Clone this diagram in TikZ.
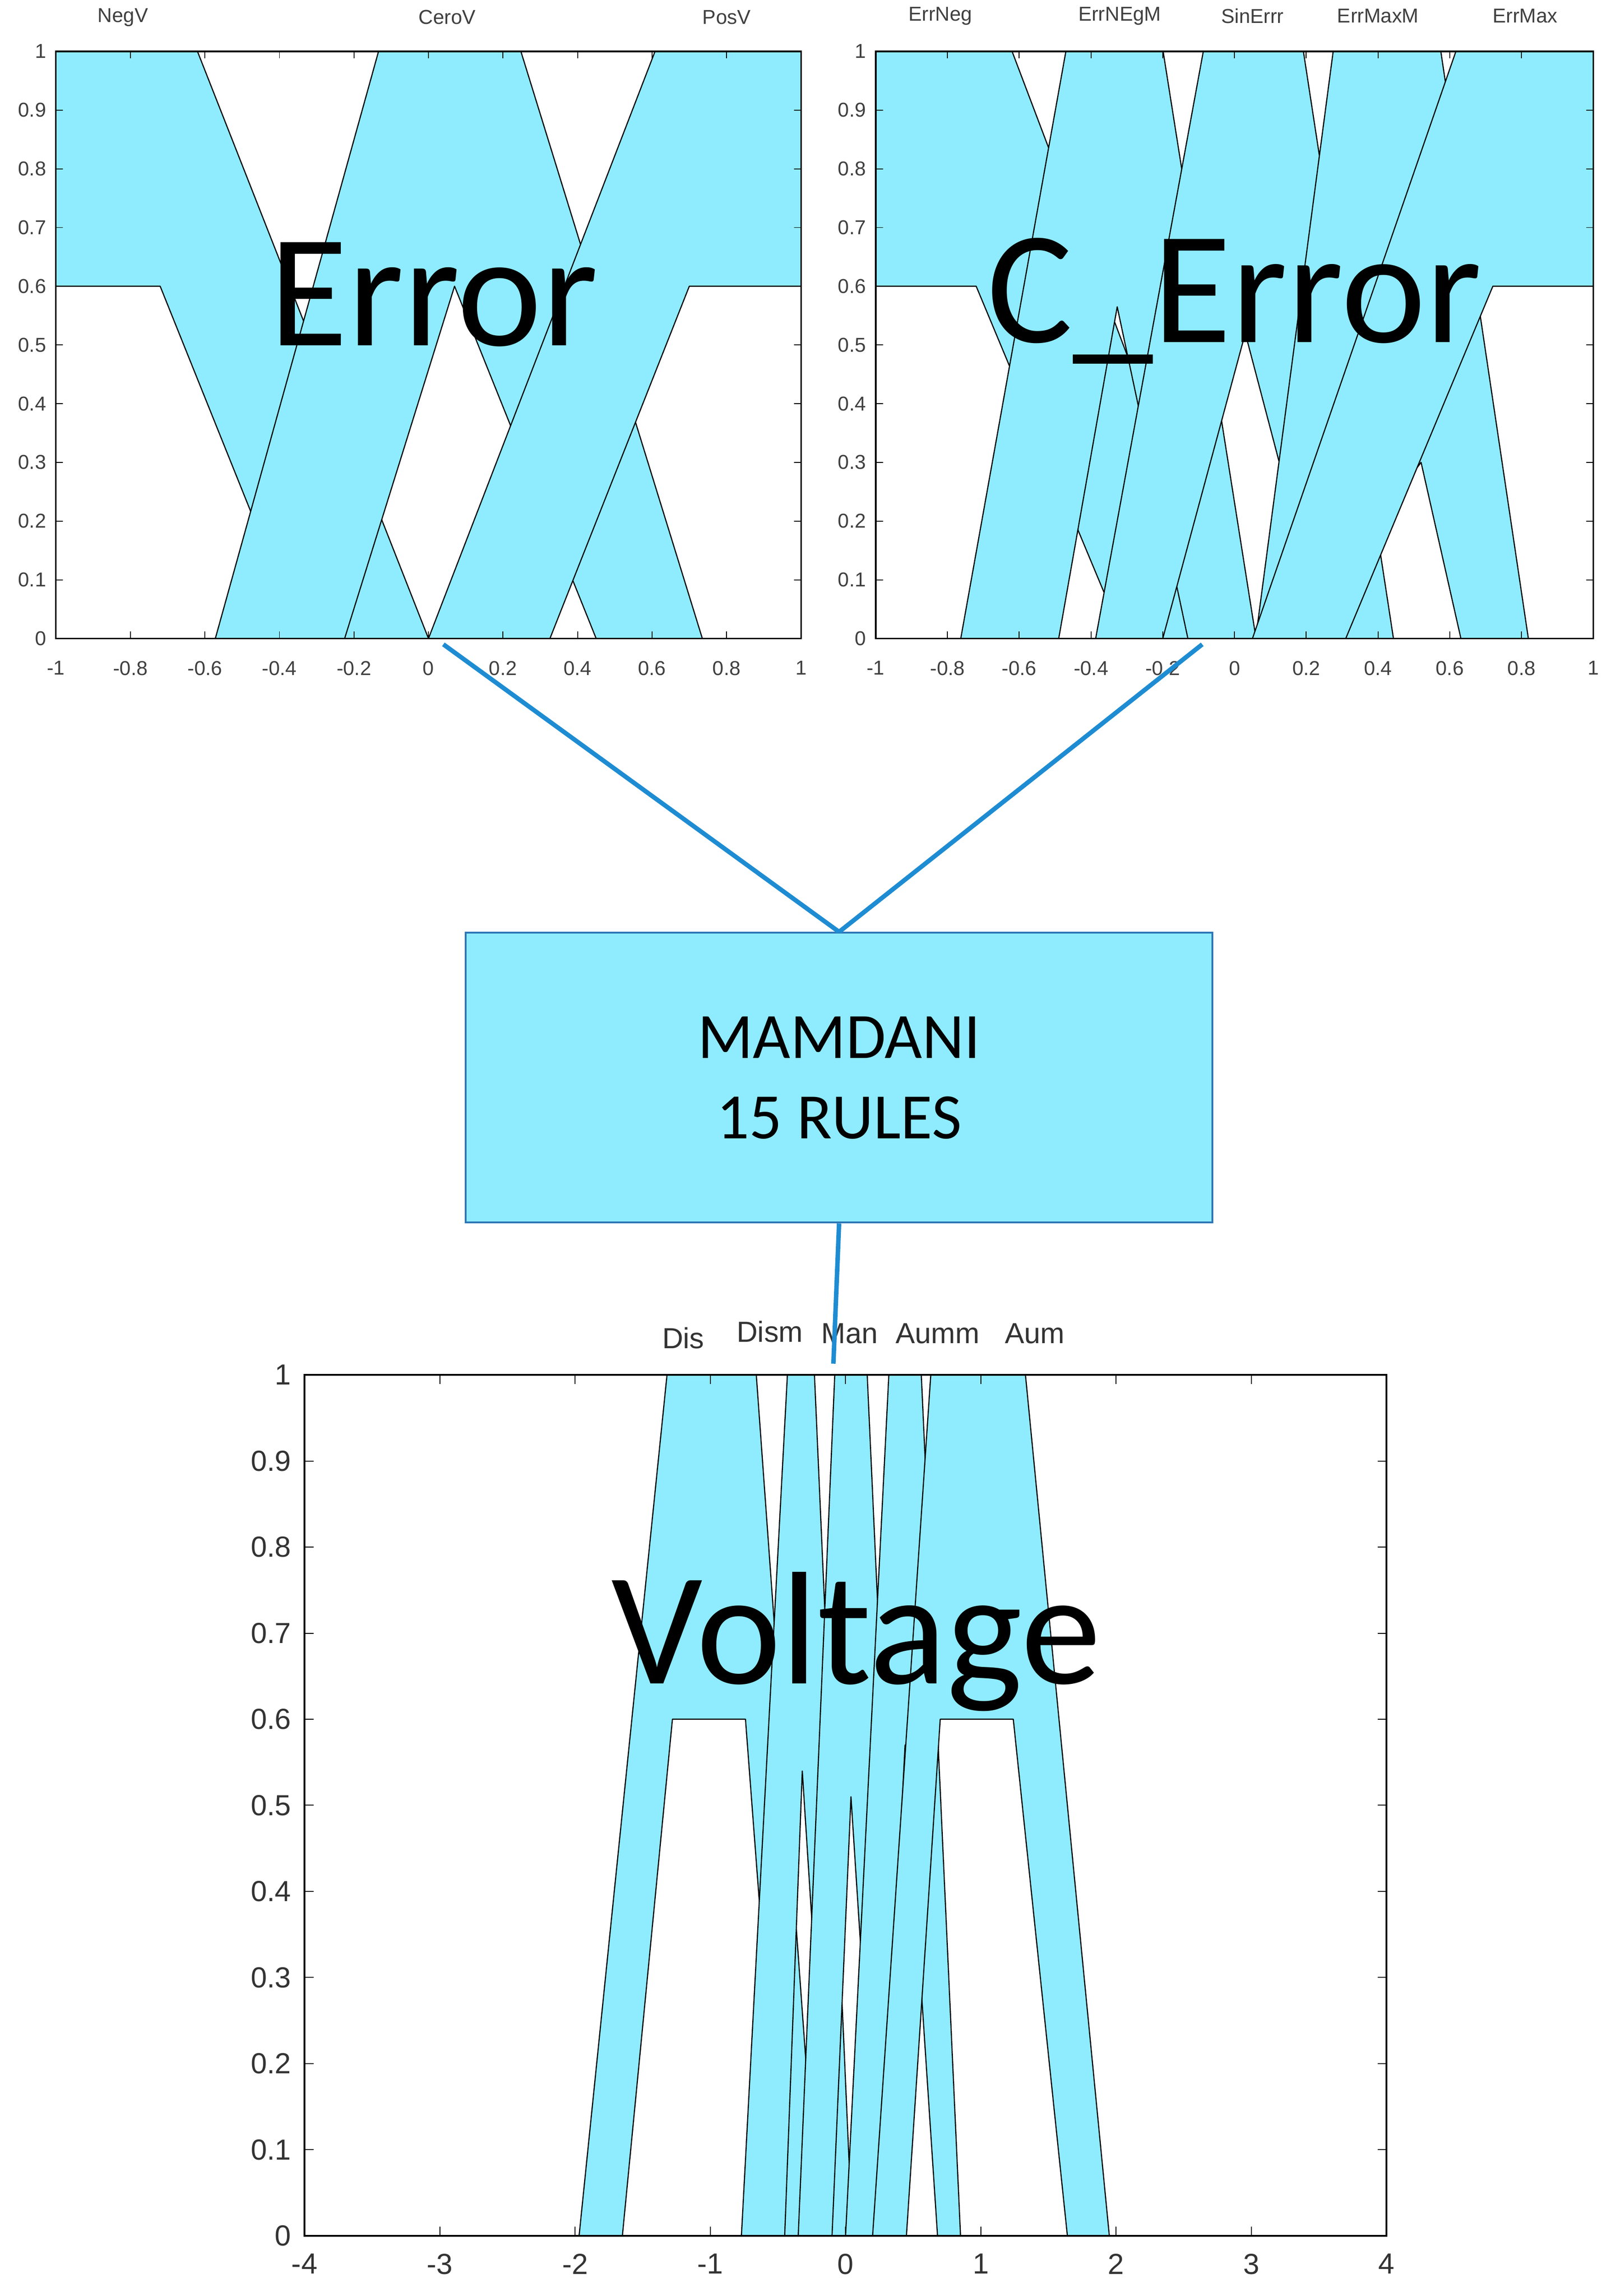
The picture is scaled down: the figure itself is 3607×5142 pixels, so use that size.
\documentclass[tikz,border=0pt]{standalone}
\usepackage{fontspec}
\setmainfont{Liberation Sans}
\newfontfamily\carlito{Carlito}
\begin{document}
\begin{tikzpicture}[x=0.2pt,y=-0.2pt,
  fou/.style={fill=cyanfill,draw=black,line width=0.5pt,line join=round},
  frame/.style={draw=black,line width=0.8pt},
  tlab/.style={font=\fontsize{9}{10}\selectfont,text=black!75},
  blab/.style={font=\fontsize{13}{14}\selectfont,text=black!80},
  big/.style={font=\carlito\fontsize{72}{72}\selectfont},
  conn/.style={draw=connblue,line width=2pt}]
\definecolor{cyanfill}{RGB}{143,236,255}
\definecolor{connblue}{RGB}{30,140,210}
\definecolor{boxborder}{RGB}{46,117,182}
\useasboundingbox[fill=white] (0,0) rectangle (3607,5142);

% ---------- Error panel ----------
\begin{scope}[shift={(959.5,1430)},xscale=834.5,yscale=-1315]
 \path[fou] (-1,1)--(-0.62,1)--(0,0)--(-0.34,0)--(-0.72,0.6)--(-1,0.6)--cycle;
 \path[fou] (-0.572,0)--(-0.134,1)--(0.248,1)--(0.735,0)--(0.45,0)--(0.07,0.6)--(-0.225,0)--cycle;
 \path[fou] (0,0)--(0.608,1)--(1,1)--(1,0.6)--(0.70,0.6)--(0.326,0)--cycle;
 \draw[frame] (-1,0) rectangle (1,1);
 \foreach \v/\t in {-1/-1,-0.8/-0.8,-0.6/-0.6,-0.4/-0.4,-0.2/-0.2,0/0,0.2/0.2,0.4/0.4,0.6/0.6,0.8/0.8,1/1}{
   \draw (\v,0)--(\v,0.012); \draw (\v,1)--(\v,0.988);
   \node[tlab,anchor=north] (exl\t) at (\v,-0.025) {\t};}
 \foreach \v/\t in {0/0,0.1/0.1,0.2/0.2,0.3/0.3,0.4/0.4,0.5/0.5,0.6/0.6,0.7/0.7,0.8/0.8,0.9/0.9,1/1}{
   \draw (-1,\v)--(-0.981,\v); \draw (1,\v)--(0.981,\v);
   \node[tlab,anchor=east] (eyl\t) at (-1.005,\v) {\t};}
 \node[tlab] (negv) at (-0.82,1.058) {NegV};
 \node[tlab] (cerov) at (0.05,1.058) {CeroV};
 \node[tlab] (posv) at (0.80,1.058) {PosV};
 \node[big] (errtxt) at (0.014,0.586) {Error};
 \coordinate (eout) at (0.04,-0.01);
\end{scope}

% ---------- C_Error panel ----------
\begin{scope}[shift={(2764.5,1430)},xscale=803.5,yscale=-1315]
 \path[fou] (-1,1)--(-0.62,1)--(0,0)--(-0.31,0)--(-0.72,0.6)--(-1,0.6)--cycle;
 \path[fou] (-0.763,0)--(-0.47,1)--(-0.199,1)--(0.06,0)--(-0.13,0)--(-0.327,0.565)--(-0.49,0)--cycle;
 \path[fou] (-0.387,0)--(-0.087,1)--(0.192,1)--(0.443,0)--(0.254,0)--(0.03,0.52)--(-0.2,0)--cycle;
 \path[fou] (0.059,0)--(0.275,1)--(0.575,1)--(0.819,0)--(0.631,0)--(0.52,0.3)--(0.15,0)--cycle;
 \path[fou] (0.05,0)--(0.617,1)--(1,1)--(1,0.6)--(0.72,0.6)--(0.31,0)--cycle;
 \draw[frame] (-1,0) rectangle (1,1);
 \foreach \v/\t in {-1/-1,-0.8/-0.8,-0.6/-0.6,-0.4/-0.4,-0.2/-0.2,0/0,0.2/0.2,0.4/0.4,0.6/0.6,0.8/0.8,1/1}{
   \draw (\v,0)--(\v,0.012); \draw (\v,1)--(\v,0.988);
   \node[tlab,anchor=north] (cxl\t) at (\v,-0.025) {\t};}
 \foreach \v/\t in {0/0,0.1/0.1,0.2/0.2,0.3/0.3,0.4/0.4,0.5/0.5,0.6/0.6,0.7/0.7,0.8/0.8,0.9/0.9,1/1}{
   \draw (-1,\v)--(-0.98,\v); \draw (1,\v)--(0.98,\v);
   \node[tlab,anchor=east] (cyl\t) at (-1.005,\v) {\t};}
 \node[tlab] (errneg) at (-0.82,1.06) {ErrNeg};
 \node[tlab] (errnegm) at (-0.32,1.06) {ErrNEgM};
 \node[tlab] (sinerr) at (0.05,1.06) {SinErrr};
 \node[tlab] (errmaxm) at (0.40,1.06) {ErrMaxM};
 \node[tlab] (errmax) at (0.81,1.06) {ErrMax};
 \node[big] (cerrtxt) at (0.0,0.575) {C\_Error};
 \coordinate (cout) at (-0.09,-0.01);
\end{scope}

% ---------- Rule box ----------
\node[draw=boxborder,fill=cyanfill,line width=0.8pt,minimum width=334.4pt,minimum height=129.8pt,
      align=center,font=\carlito\fontsize{29}{36}\selectfont] (box) at (1879,2413.5) {MAMDANI\\15 RULES};
\draw[conn] (eout) -- (box.north);
\draw[conn] (cout) -- (box.north);

% ---------- Voltage panel ----------
\begin{scope}[shift={(1893.5,5007)},xscale=302.9,yscale=-1928]
 \path[fou] (-1.97,0)--(-1.32,1)--(-0.66,1)--(-0.2,0)--(-0.45,0)--(-0.74,0.6)--(-1.28,0.6)--(-1.65,0)--cycle;
 \path[fou] (-0.77,0)--(-0.43,1)--(-0.23,1)--(0.05,0)--(-0.1,0)--(-0.32,0.54)--(-0.45,0)--cycle;
 \path[fou] (-0.35,0)--(-0.08,1)--(0.16,1)--(0.45,0)--(0.25,0)--(0.04,0.51)--(-0.1,0)--cycle;
 \path[fou] (0.0,0)--(0.32,1)--(0.56,1)--(0.85,0)--(0.68,0)--(0.44,0.57)--(0.25,0)--cycle;
 \path[fou] (0.2,0)--(0.63,1)--(1.33,1)--(1.95,0)--(1.64,0)--(1.24,0.6)--(0.7,0.6)--(0.45,0)--cycle;
 \draw[frame] (-4,0) rectangle (4,1);
 \foreach \v in {-4,...,4}{
   \draw (\v,0)--(\v,0.0104); \draw (\v,1)--(\v,0.9896);
   \node[blab,anchor=north] (vxl\v) at (\v,-0.012) {\v};}
 \foreach \v/\t in {0/0,0.1/0.1,0.2/0.2,0.3/0.3,0.4/0.4,0.5/0.5,0.6/0.6,0.7/0.7,0.8/0.8,0.9/0.9,1/1}{
   \draw (-4,\v)--(-3.934,\v); \draw (4,\v)--(3.934,\v);
   \node[blab,anchor=east] (vyl\t) at (-4.04,\v) {\t};}
 \node[blab] (dis) at (-1.20,1.043) {Dis};
 \node[blab] (dism) at (-0.56,1.05) {Dism};
 \node[blab] (man) at (0.03,1.048) {Man};
 \node[blab] (aumm) at (0.68,1.048) {Aumm};
 \node[blab] (aum) at (1.40,1.048) {Aum};
 \node[big] (volt) at (0.08,0.69) {Voltage};
 \coordinate (vin) at (-0.09,1.013);
\end{scope}
\draw[conn] (box.south) -- (vin);
\end{tikzpicture}
\end{document}
